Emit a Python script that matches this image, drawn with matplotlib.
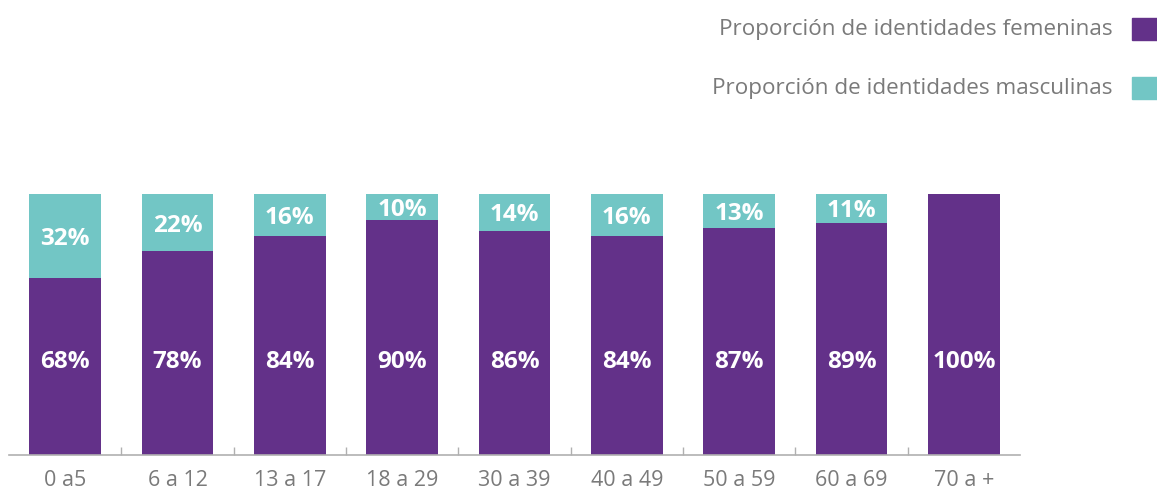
import matplotlib.pyplot as plt
from matplotlib.patches import Rectangle

# datos
grupos = ['0 a5', '6 a 12', '13 a 17', '18 a 29', '30 a 39', '40 a 49', '50 a 59', '60 a 69', '70 a +']
femeninas = [68, 78, 84, 90, 86, 84, 87, 89, 100]
masculinas = [32, 22, 16, 10, 14, 16, 13, 11, 0]
series = ['Proporción de identidades femeninas', 'Proporción de identidades masculinas']

MORADO = '#633189'
TURQUESA = '#72C6C5'
GRIS = '#7a7a7a'

plt.rcParams['font.family'] = ['Open Sans', 'DejaVu Sans']

fig = plt.figure(figsize=(11.57, 4.93), dpi=100)
ax = fig.add_axes([0.0078, 0.0771, 0.8738, 0.5294])

x = list(range(len(grupos)))
ax.bar(x, femeninas, width=0.64, color=MORADO)
ax.bar(x, masculinas, width=0.64, bottom=femeninas, color=TURQUESA)

for i in x:
    ax.text(i, 35.6, f'{femeninas[i]}%', ha='center', va='center',
            color='white', fontsize=17.5, fontweight='bold')
    if masculinas[i] > 0:
        y = femeninas[i] + masculinas[i] / 2 - 1.2
        ax.text(i, y, f'{masculinas[i]}%', ha='center', va='center',
                color='white', fontsize=17.5, fontweight='bold')

ax.set_xlim(-0.5, len(grupos) - 0.5)
ax.set_ylim(0, 100)
ax.set_yticks([])
for s in ['top', 'right', 'left']:
    ax.spines[s].set_visible(False)
ax.spines['bottom'].set_color('#b0b0b0')
ax.spines['bottom'].set_linewidth(1.2)

ax.set_xticks(x)
ax.set_xticklabels(grupos, fontsize=15.5, color=GRIS)
ax.tick_params(axis='x', which='major', length=0, pad=11)
ax.set_xticks([i + 0.5 for i in x[:-1]], minor=True)
ax.tick_params(axis='x', which='minor', direction='in', length=6, color='#b0b0b0', width=1)

# leyenda a mano, arriba a la derecha
colores = [MORADO, TURQUESA]
ys = [0.941, 0.821]
for nombre, c, yy in zip(series, colores, ys):
    fig.text(0.9615, yy, nombre, ha='right', va='center', fontsize=16.2, color=GRIS)
    fig.patches.append(Rectangle((0.9785, yy - 0.022), 0.025, 0.044,
                                 transform=fig.transFigure, color=c))

fig.savefig('out.png', dpi=100)
